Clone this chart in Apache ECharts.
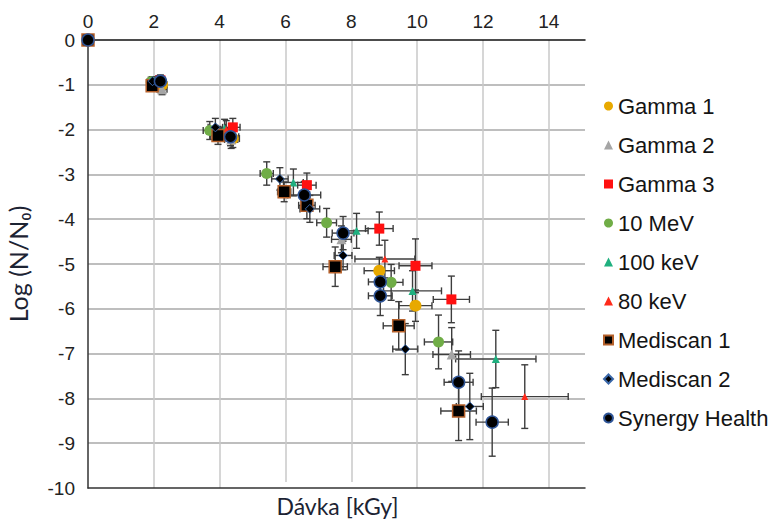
<!DOCTYPE html>
<html>
<head>
<meta charset="utf-8">
<script src="https://cdn.jsdelivr.net/npm/echarts@6/dist/echarts.min.js"></script>
<style>
  html, body { margin: 0; padding: 0; background: #fff; }
  #chart { width: 784px; height: 521px; }
</style>
</head>
<body>
<div id="chart"></div>
<script>
// Survival curves: log reduction vs. absorbed dose, per irradiation source.
// Each series: dose [kGy], log(N/N0), dose error, log error.
const seriesNames = ['Gamma 1', 'Gamma 2', 'Gamma 3', '10 MeV', '100 keV', '80 keV', 'Mediscan 1', 'Mediscan 2', 'Synergy Health'];

const gamma1Dose = [0, 2.25, 4.4, 8.85, 9.95];
const gamma1Log  = [0, -1.0, -2.2, -5.15, -5.93];
const gamma1DoseErr = [0, 0.15, 0.2, 0.46, 0.5];
const gamma1LogErr  = [0, 0.12, 0.2, 0.3, 0.35];

const gamma2Dose = [0, 2.25, 4.35, 7.7, 11.05];
const gamma2Log  = [0, -1.1, -2.22, -4.45, -7.02];
const gamma2DoseErr = [0, 0.15, 0.2, 0.3, 0.57];
const gamma2LogErr  = [0, 0.12, 0.2, 0.3, 0.6];

const gamma3Dose = [0, 2.2, 4.4, 6.65, 8.85, 9.95, 11.04];
const gamma3Log  = [0, -0.9, -1.95, -3.24, -4.21, -5.04, -5.79];
const gamma3DoseErr = [0, 0.15, 0.22, 0.28, 0.42, 0.5, 0.55];
const gamma3LogErr  = [0, 0.12, 0.2, 0.27, 0.37, 0.6, 0.52];

const mev10Dose = [0, 1.92, 3.7, 5.43, 7.25, 9.21, 10.65];
const mev10Log  = [0, -0.93, -2.02, -2.98, -4.08, -5.41, -6.74];
const mev10DoseErr = [0, 0.12, 0.2, 0.2, 0.3, 0.36, 0.43];
const mev10LogErr  = [0, 0.1, 0.2, 0.26, 0.32, 0.4, 0.6];

const kev100Dose = [0, 2.0, 4.15, 6.24, 8.16, 9.86, 12.39];
const kev100Log  = [0, -0.95, -1.97, -3.18, -4.26, -5.6, -7.12];
const kev100DoseErr = [0, 0.12, 0.2, 0.3, 0.35, 0.88, 1.22];
const kev100LogErr  = [0, 0.1, 0.2, 0.3, 0.39, 0.45, 0.64];

const kev80Dose = [0, 2.15, 4.2, 9.02, 13.27];
const kev80Log  = [0, -0.9, -2.0, -4.89, -7.96];
const kev80DoseErr = [0, 0.12, 0.2, 0.91, 1.32];
const kev80LogErr  = [0, 0.1, 0.2, 0.42, 0.71];

const medi1Dose = [0, 1.95, 3.95, 5.96, 6.65, 7.51, 9.44, 11.26];
const medi1Log  = [0, -1.02, -2.13, -3.39, -3.69, -5.06, -6.38, -8.28];
const medi1DoseErr = [0, 0.12, 0.22, 0.2, 0.25, 0.37, 0.47, 0.54];
const medi1LogErr  = [0, 0.1, 0.2, 0.22, 0.3, 0.44, 0.54, 0.66];

const medi2Dose = [0, 1.96, 3.87, 5.83, 6.74, 7.75, 9.64, 11.6];
const medi2Log  = [0, -0.92, -1.95, -3.1, -3.77, -4.81, -6.9, -8.18];
const medi2DoseErr = [0, 0.12, 0.22, 0.25, 0.3, 0.27, 0.38, 0.41];
const medi2LogErr  = [0, 0.1, 0.2, 0.25, 0.3, 0.32, 0.57, 0.74];

const synDose = [0, 2.2, 4.33, 6.57, 7.75, 8.88, 8.88, 11.26, 12.28];
const synLog  = [0, -0.92, -2.16, -3.46, -4.31, -5.4, -5.71, -7.64, -8.53];
const synDoseErr = [0, 0.15, 0.25, 0.5, 0.33, 0.36, 0.36, 0.44, 0.49];
const synLogErr  = [0, 0.12, 0.2, 0.3, 0.37, 0.3, 0.44, 0.7, 0.76];

// Axis ranges and tick spacing
const doseMin = 0, doseMax = 15.1, doseStep = 2;
const logMin = -10, logMax = 0, logStep = 1;

const sets = [
  [gamma1Dose, gamma1Log, gamma1DoseErr, gamma1LogErr],
  [gamma2Dose, gamma2Log, gamma2DoseErr, gamma2LogErr],
  [gamma3Dose, gamma3Log, gamma3DoseErr, gamma3LogErr],
  [mev10Dose, mev10Log, mev10DoseErr, mev10LogErr],
  [kev100Dose, kev100Log, kev100DoseErr, kev100LogErr],
  [kev80Dose, kev80Log, kev80DoseErr, kev80LogErr],
  [medi1Dose, medi1Log, medi1DoseErr, medi1LogErr],
  [medi2Dose, medi2Log, medi2DoseErr, medi2LogErr],
  [synDose, synLog, synDoseErr, synLogErr]
];

// Marker styles per series
const markerStyles = [
  { symbol: 'circle',   size: 12, color: '#E8A900' },
  { symbol: 'triangle', size: 10, color: '#A5A5A5' },
  { symbol: 'rect',     size: 10, color: '#FF1010' },
  { symbol: 'circle',   size: 11, color: '#70AD47' },
  { symbol: 'triangle', size: 8,  color: '#1FB07F' },
  { symbol: 'triangle', size: 7,  color: '#FF2A1A' },
  { symbol: 'rect',     size: 12, color: '#000000', border: '#B5602A', bw: 1.5 },
  { symbol: 'diamond',  size: 9,  color: '#000000', border: '#3A67A8', bw: 1 },
  { symbol: 'circle',   size: 12, color: '#000000', border: '#2F5597', bw: 1.5 }
];

const pointSeries = sets.map((s, i) => {
  const m = markerStyles[i];
  return {
    name: seriesNames[i],
    type: 'scatter',
    z: 3,
    symbol: m.symbol,
    symbolSize: m.size,
    itemStyle: {
      color: m.color,
      borderColor: m.border || m.color,
      borderWidth: m.bw || 0,
      opacity: 1
    },
    data: s[0].map((x, j) => [x, s[1][j]])
  };
});

// Error bars for every point, all sources together
const errRows = [];
sets.forEach(s => {
  s[0].forEach((x, j) => {
    if (s[2][j] > 0 || s[3][j] > 0) errRows.push([x, s[1][j], s[2][j], s[3][j]]);
  });
});

function renderErrorBar(params, api) {
  const x = api.value(0), y = api.value(1), xe = api.value(2), ye = api.value(3);
  const l = api.coord([x - xe, y]), r = api.coord([x + xe, y]);
  const t = api.coord([x, y + ye]), b = api.coord([x, y - ye]);
  const cap = 3.5;
  const style = { stroke: '#3d3d3d', lineWidth: 1.4 };
  const seg = (x1, y1, x2, y2) => ({ type: 'line', shape: { x1, y1, x2, y2 }, style });
  return {
    type: 'group',
    children: [
      seg(l[0], l[1], r[0], r[1]),
      seg(l[0], l[1] - cap, l[0], l[1] + cap),
      seg(r[0], r[1] - cap, r[0], r[1] + cap),
      seg(t[0], t[1], b[0], b[1]),
      seg(t[0] - cap, t[1], t[0] + cap, t[1]),
      seg(b[0] - cap, b[1], b[0] + cap, b[1])
    ]
  };
}

const chart = echarts.init(document.getElementById('chart'), null, { renderer: 'svg' });

chart.setOption({
  animation: false,
  backgroundColor: '#ffffff',
  grid: { left: 88, top: 40, right: 199, bottom: 33, containLabel: false, outerBoundsMode: 'none' },
  legend: {
    orient: 'vertical',
    left: 598,
    top: 90,
    itemWidth: 9,
    itemHeight: 9,
    itemGap: 17,
    data: seriesNames,
    textStyle: { fontFamily: 'Liberation Sans', fontSize: 22, color: '#141414', lineHeight: 22 }
  },
  xAxis: [
    {
      type: 'value',
      position: 'top',
      min: doseMin, max: doseMax, interval: doseStep,
      axisLine: { show: true, onZero: false, lineStyle: { color: '#111', width: 1.5 } },
      axisTick: { show: false },
      axisLabel: { showMaxLabel: false, margin: 9, fontFamily: 'Liberation Sans', fontSize: 19, color: '#222' },
      splitLine: { show: true, showMinLine: false, showMaxLine: false, lineStyle: { color: '#C9C9C9', width: 1.5 } }
    },
    {
      type: 'value',
      position: 'bottom',
      min: doseMin, max: doseMax, interval: doseStep,
      axisLine: { show: true, onZero: false, lineStyle: { color: '#333', width: 1.5 } },
      axisTick: { show: false },
      axisLabel: { show: false },
      splitLine: { show: false },
      name: 'Dávka [kGy]',
      nameLocation: 'middle',
      nameGap: -6,
      z: 10,
      nameTextStyle: {
        fontFamily: 'Lato', fontSize: 23, color: '#1c2333',
        backgroundColor: '#ffffff', padding: [12, 10, 2, 12]
      }
    }
  ],
  yAxis: {
    type: 'value',
    min: logMin, max: logMax, interval: logStep,
    axisLine: { show: true, onZero: false, lineStyle: { color: '#333', width: 1.5 } },
    axisTick: { show: false },
    axisLabel: { margin: 13, fontFamily: 'Liberation Sans', fontSize: 19, color: '#222' },
    splitLine: { show: true, showMinLine: false, showMaxLine: false, lineStyle: { color: '#A8A8A8', width: 1.5 } },
    name: 'Log (N/N₀)',
    nameLocation: 'middle',
    nameRotate: 90,
    nameGap: 58,
    nameTextStyle: { fontFamily: 'Lato', fontSize: 25, color: '#1c2333' }
  },
  series: [
    {
      type: 'custom',
      name: 'errors',
      z: 2,
      renderItem: renderErrorBar,
      encode: { x: 0, y: 1 },
      data: errRows
    }
  ].concat(pointSeries)
});
</script>
</body>
</html>
